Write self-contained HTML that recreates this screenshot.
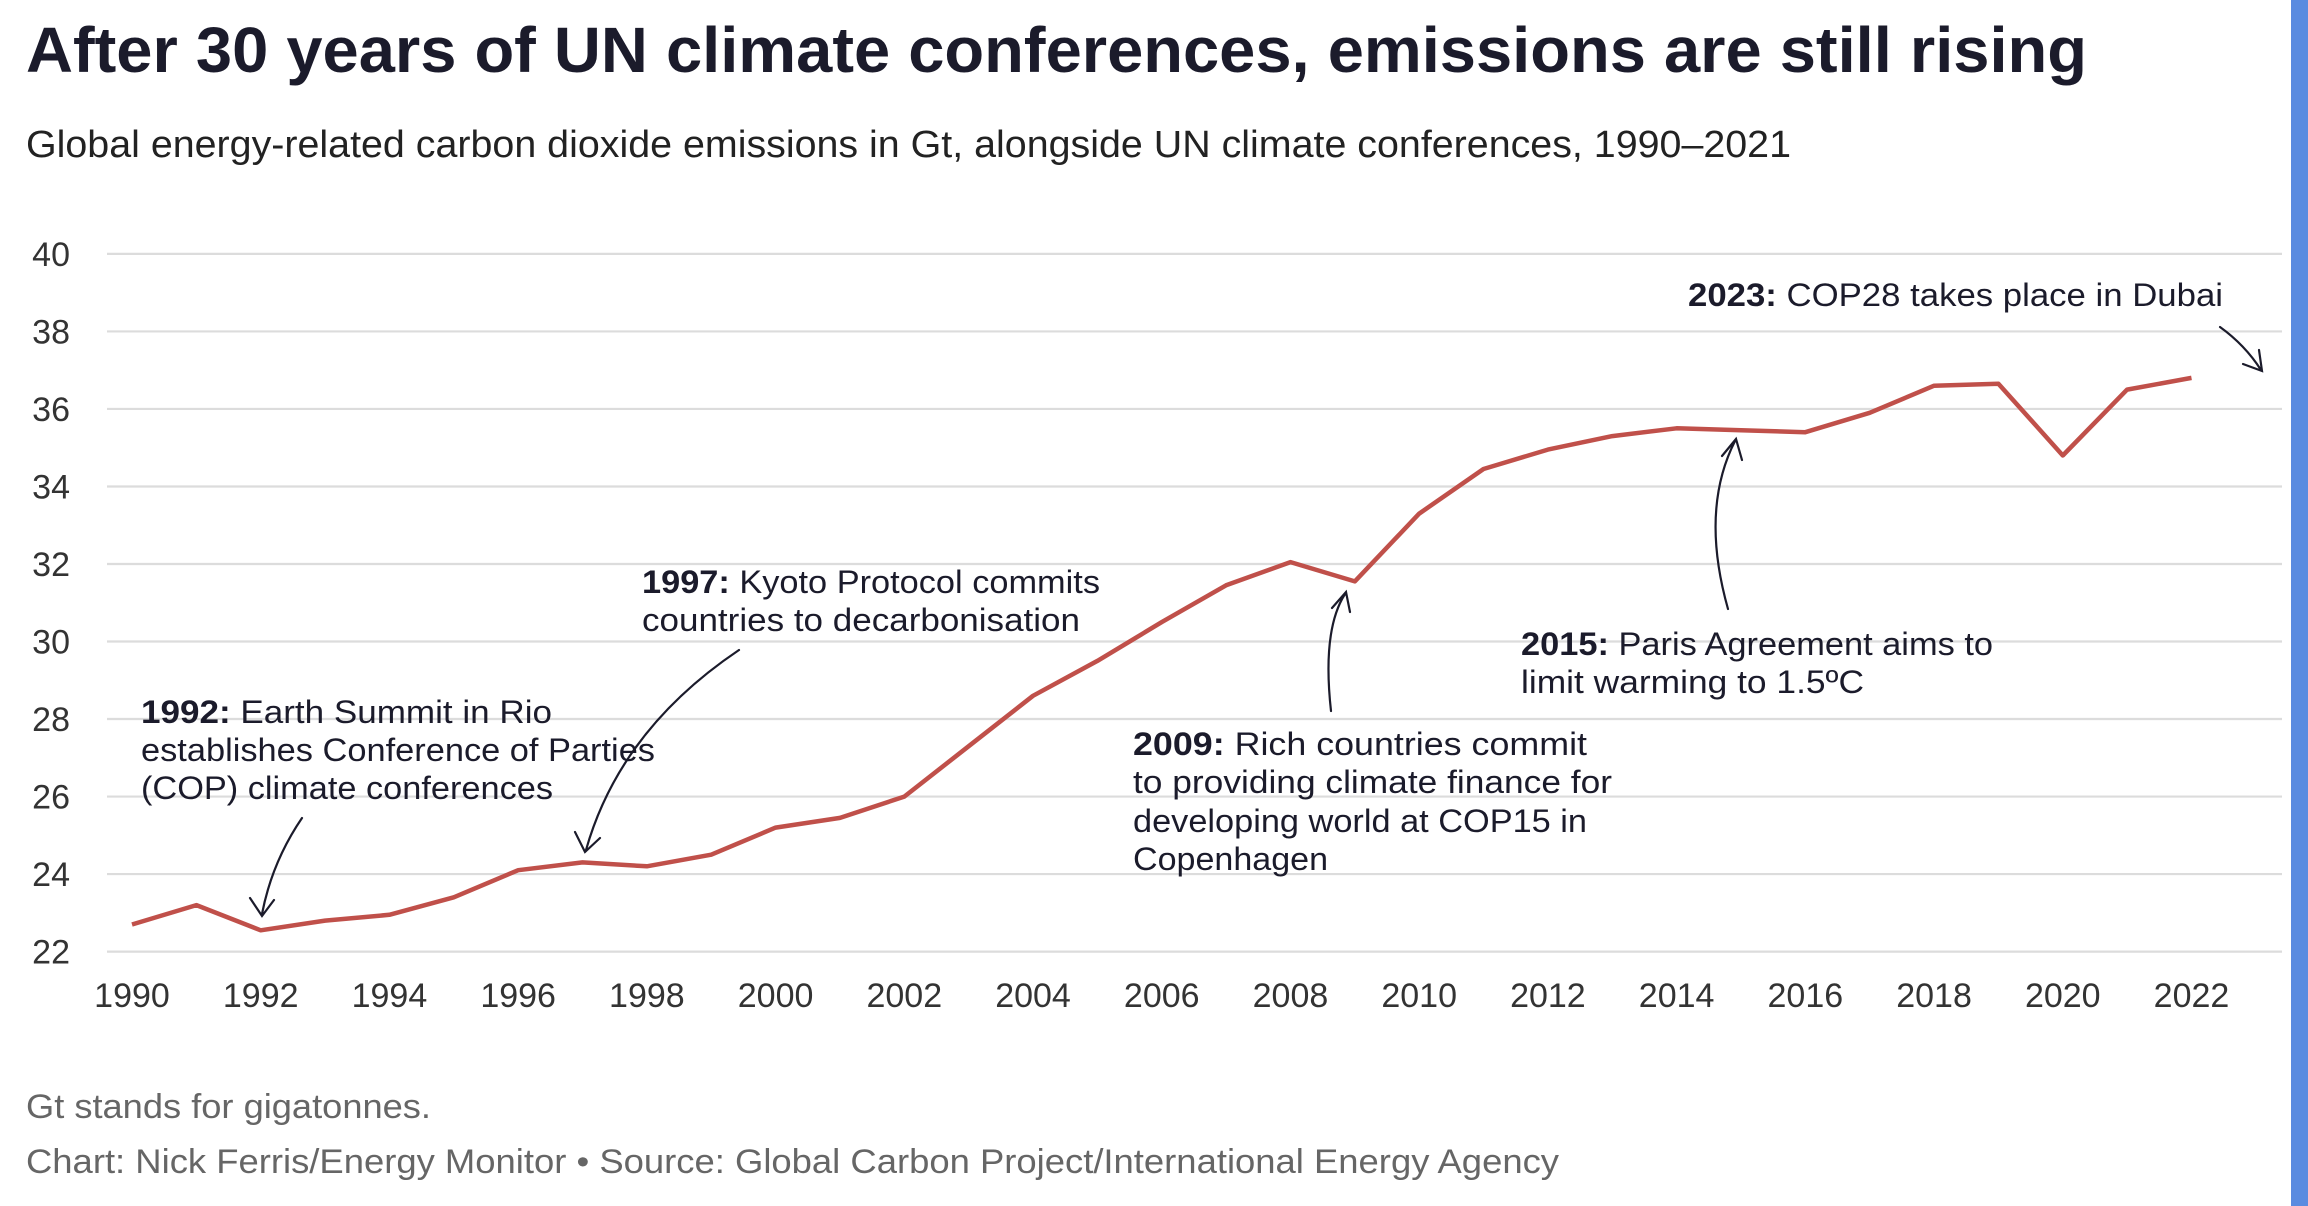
<!DOCTYPE html>
<html><head><meta charset="utf-8"><style>
html,body{margin:0;padding:0;background:#fff;}
svg{display:block;font-family:"Liberation Sans",sans-serif;}
</style></head><body>
<svg id="chart" width="2308" height="1206" viewBox="0 0 2308 1206" xmlns="http://www.w3.org/2000/svg">
<rect x="0" y="0" width="2308" height="1206" fill="#fff"/>
<rect x="2291" y="0" width="17" height="1206" fill="#5a8be0"/>
<text x="26" y="72" font-size="64" font-weight="bold" fill="#1b1b2b" textLength="2061" lengthAdjust="spacingAndGlyphs">After 30 years of UN climate conferences, emissions are still rising</text>
<text x="26" y="157" font-size="38" fill="#222" textLength="1765" lengthAdjust="spacingAndGlyphs">Global energy-related carbon dioxide emissions in Gt, alongside UN climate conferences, 1990–2021</text>
<g id="grid"></g>
<g id="yticks"></g>
<g id="xticks"></g>
<g id="series"></g>
<g font-size="32" fill="#1b1b2b">
 <g>
  <text x="141" y="723" textLength="411" lengthAdjust="spacingAndGlyphs"><tspan font-weight="bold">1992:</tspan> Earth Summit in Rio</text>
  <text x="141" y="761" textLength="514" lengthAdjust="spacingAndGlyphs">establishes Conference of Parties</text>
  <text x="141" y="799" textLength="412" lengthAdjust="spacingAndGlyphs">(COP) climate conferences</text>
 </g>
 <g>
  <text x="642" y="593" textLength="458" lengthAdjust="spacingAndGlyphs"><tspan font-weight="bold">1997:</tspan> Kyoto Protocol commits</text>
  <text x="642" y="631" textLength="438" lengthAdjust="spacingAndGlyphs">countries to decarbonisation</text>
 </g>
 <g>
  <text x="1133" y="755" textLength="454" lengthAdjust="spacingAndGlyphs"><tspan font-weight="bold">2009:</tspan> Rich countries commit</text>
  <text x="1133" y="793" textLength="479" lengthAdjust="spacingAndGlyphs">to providing climate finance for</text>
  <text x="1133" y="832" textLength="454" lengthAdjust="spacingAndGlyphs">developing world at COP15 in</text>
  <text x="1133" y="870" textLength="195" lengthAdjust="spacingAndGlyphs">Copenhagen</text>
 </g>
 <g>
  <text x="1521" y="655" textLength="472" lengthAdjust="spacingAndGlyphs"><tspan font-weight="bold">2015:</tspan> Paris Agreement aims to</text>
  <text x="1521" y="693" textLength="343" lengthAdjust="spacingAndGlyphs">limit warming to 1.5ºC</text>
 </g>
 <g>
  <text x="1688" y="306" textLength="535" lengthAdjust="spacingAndGlyphs"><tspan font-weight="bold">2023:</tspan> COP28 takes place in Dubai</text>
 </g>
</g>
<g fill="none" stroke="#1b1b2b" stroke-width="2.2" stroke-linecap="round">
 <path d="M302 818 Q272 862 262 914 M250 898 L262 916 L274 900"/>
 <path d="M739 650 Q620 730 586 850 M575 832 L585 852 L600 838"/>
 <path d="M1331 711 Q1322 630 1345 594 M1332 608 L1346 592 L1350 612"/>
 <path d="M1728 609 Q1700 510 1735 441 M1722 456 L1736 439 L1742 460"/>
 <path d="M2220 327 Q2245 345 2261 370 M2243 364 L2262 371 L2259 350"/>
</g>
<text x="26" y="1118" font-size="34" fill="#666" textLength="405" lengthAdjust="spacingAndGlyphs">Gt stands for gigatonnes.</text>
<text x="26" y="1173" font-size="34" fill="#666" textLength="1533" lengthAdjust="spacingAndGlyphs">Chart: Nick Ferris/Energy Monitor • Source: Global Carbon Project/International Energy Agency</text>
</svg>
<script>
const years = [1990,1991,1992,1993,1994,1995,1996,1997,1998,1999,2000,2001,2002,2003,2004,2005,2006,2007,2008,2009,2010,2011,2012,2013,2014,2015,2016,2017,2018,2019,2020,2021,2022];
const emissions = [22.7,23.2,22.55,22.8,22.95,23.4,24.1,24.3,24.2,24.5,25.2,25.45,26.0,27.3,28.6,29.5,30.5,31.45,32.05,31.55,33.3,34.45,34.95,35.3,35.5,35.45,35.4,35.9,36.6,36.65,34.8,36.5,36.8];
const yTicks = [22,24,26,28,30,32,34,36,38,40];
const xTicks = [1990,1992,1994,1996,1998,2000,2002,2004,2006,2008,2010,2012,2014,2016,2018,2020,2022];

const NS = "http://www.w3.org/2000/svg";
function xScale(yr){ return 132 + (yr - 1990) * (2191.5 - 132) / 32; }
function yScale(v){ return 951.6 - (v - 22) * (951.6 - 253.9) / 18; }

const grid = document.getElementById('grid');
const yg = document.getElementById('yticks');
yTicks.forEach(t => {
  const l = document.createElementNS(NS,'line');
  
  
  l.setAttribute('x1', 107); l.setAttribute('x2', 2282);
  l.setAttribute('y1', yScale(t)); l.setAttribute('y2', yScale(t));
  l.setAttribute('stroke', '#dcdcdc'); l.setAttribute('stroke-width', 2.2);
  grid.appendChild(l);
  const tx = document.createElementNS(NS,'text');
  
  
  tx.setAttribute('x', 70); tx.setAttribute('y', yScale(t) + 12);
  tx.setAttribute('text-anchor', 'end'); tx.setAttribute('font-size', 34); tx.setAttribute('fill', '#333');
  tx.textContent = t;
  yg.appendChild(tx);
});
const xg = document.getElementById('xticks');
xTicks.forEach(t => {
  const tx = document.createElementNS(NS,'text');
  
  
  tx.setAttribute('x', xScale(t)); tx.setAttribute('y', 1007);
  tx.setAttribute('text-anchor', 'middle'); tx.setAttribute('font-size', 34); tx.setAttribute('fill', '#333');
  tx.textContent = t;
  xg.appendChild(tx);
});
const pts = years.map((y,i) => xScale(y).toFixed(1) + ',' + yScale(emissions[i]).toFixed(1)).join(' ');
const pl = document.createElementNS(NS,'polyline');


pl.setAttribute('points', pts);
pl.setAttribute('fill', 'none'); pl.setAttribute('stroke', '#c0504a');
pl.setAttribute('stroke-width', 4.5); pl.setAttribute('stroke-linejoin', 'round');
document.getElementById('series').appendChild(pl);
</script>
</body></html>
